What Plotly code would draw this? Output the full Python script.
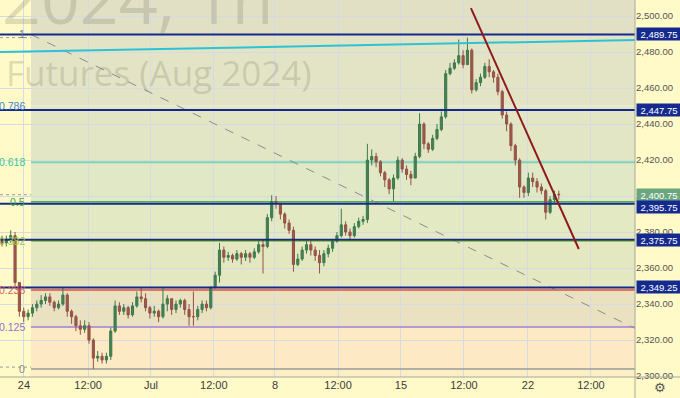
import plotly.graph_objects as go

# ---------------- data (approx. 4h bars) ----------------
closes = [2374, 2376, 2378, 2352, 2336, 2333, 2335, 2338, 2340, 2342,
          2344, 2341, 2338, 2340, 2345, 2336, 2333, 2328, 2326, 2328,
          2320, 2310, 2311, 2309, 2311, 2325, 2339, 2336, 2338, 2334,
          2339, 2344, 2343, 2338, 2335, 2336, 2333, 2340, 2343, 2337,
          2340, 2342, 2337, 2333, 2333, 2337, 2340, 2338, 2349, 2356,
          2370, 2366, 2367, 2365, 2368, 2366, 2368, 2366, 2369, 2373,
          2372, 2388, 2397, 2396, 2390, 2385, 2381, 2362, 2365, 2370,
          2373, 2370, 2367, 2363, 2368, 2371, 2375, 2378, 2384, 2380,
          2378, 2383, 2386, 2387, 2420, 2422, 2419, 2413, 2409, 2404,
          2410, 2420, 2415, 2412, 2410, 2422, 2440, 2429, 2426, 2432,
          2437, 2444, 2468, 2471, 2474, 2478, 2473, 2481, 2459, 2463,
          2466, 2472, 2469, 2466, 2458, 2445, 2440, 2428, 2420, 2405,
          2402, 2410, 2408, 2405, 2403, 2391, 2398, 2401, 2400.75]
highs = [2378, 2378, 2381, 2380, 2352, 2338, 2337, 2340, 2342, 2345,
         2346, 2346, 2342, 2342, 2349.5, 2346, 2337, 2334, 2331, 2331,
         2330, 2321, 2314, 2313, 2313, 2327, 2342, 2341, 2340, 2339,
         2341, 2347, 2349.5, 2346, 2339, 2339, 2337, 2349, 2345, 2343,
         2342, 2343, 2343, 2340, 2347, 2339, 2342, 2342, 2350, 2358,
         2374, 2372, 2369, 2368, 2370, 2369, 2370, 2369, 2371, 2375,
         2376, 2390, 2400.5, 2400, 2396, 2391, 2387, 2383, 2368, 2372,
         2375, 2375, 2372, 2370, 2370, 2373, 2376, 2380, 2393, 2386,
         2382, 2385, 2388, 2389, 2429, 2426, 2424, 2420, 2414, 2410,
         2412, 2422, 2421, 2417, 2414, 2424, 2446, 2441, 2430, 2434,
         2440, 2447, 2470, 2474, 2476, 2487, 2481, 2488, 2482, 2465,
         2468, 2474, 2476, 2470, 2468, 2459, 2447, 2441, 2429, 2421,
         2406, 2413, 2413, 2410, 2407, 2404, 2400, 2403, 2403]
lows = [2372, 2372, 2374, 2350, 2333, 2330, 2331, 2333, 2336, 2338,
        2340, 2339, 2336, 2337, 2339, 2333, 2329, 2325, 2323, 2324,
        2318, 2304, 2308, 2307, 2307, 2309, 2324, 2334, 2334, 2332,
        2333, 2338, 2341, 2336, 2332, 2333, 2330, 2332, 2336, 2334,
        2335, 2338, 2334, 2328, 2328, 2331, 2335, 2336, 2337, 2349,
        2352, 2363, 2364, 2363, 2364, 2362, 2364, 2363, 2365, 2368,
        2357, 2371, 2386, 2393, 2387, 2382, 2379, 2358, 2361, 2364,
        2368, 2367, 2364, 2357, 2361, 2366, 2369, 2374, 2377, 2378,
        2376, 2377, 2382, 2384, 2385, 2417, 2416, 2411, 2405, 2401,
        2397, 2409, 2413, 2409, 2406, 2410, 2421, 2426, 2424, 2425,
        2431, 2436, 2443, 2467, 2470, 2473, 2471, 2473, 2457, 2458,
        2461, 2465, 2466, 2463, 2456, 2443, 2436, 2425, 2417, 2399,
        2399, 2400, 2405, 2402, 2401, 2387, 2390, 2396, 2398]
first_open = 2375
opens = [first_open] + closes[:-1]
bars = list(range(len(closes)))

# x-axis tick labels
tick_labels = ["24", "12:00", "Jul", "12:00", "8", "12:00", "15", "12:00", "22", "12:00"]
tick_bars = [5.05, 19.8, 34.25, 48.7, 62.75, 77.25, 91.7, 106.2, 120.9, 135.4]

# price levels
navy_levels = [2489.75, 2447.75, 2395.75, 2375.75, 2349.25]
last_price = 2400.75
fib_low, fib_high = 2304.0, 2489.75
fib_ratios = [1, 0.786, 0.618, 0.5, 0.382, 0.236, 0.125, 0]
fib_labels = ["1", "0.786", "0.618", "0.5", "0.382", "0.236", "0.125", "0"]
y_ticks = list(range(2300, 2501, 20))

# ---------------- styling ----------------
X_RANGE = [-0.46, 145.52]
Y_RANGE = [2299.5, 2508.9]
BG = "#fffac8"
NAVY = "#152a8e"
GRID = "#d6dbe2"
FONT = "Liberation Sans"
fib_line_colors = ["#8a8d96", "#eef2cf", "#7fd6ae", "#4caf50", "#9acd32", "#e8735a", "#9a80d8", "#9a9a9a"]
fib_line_widths = [1, 1, 2, 1.5, 1.5, 2, 1.5, 1.5]
fib_text_colors = ["#787b86", "#3f86d8", "#36c79c", "#43a843", "#9ec93a", "#e0605a", "#8f72cf", "#8a8a8a"]
zone_colors = ["#e3e3c5", "#e3e6c5", "#e1e8c5", "#e3eac3", "#e3e8c0", "#eae1c0", "#fde9c3"]
fib_x0 = 6.67

fib_values = [fib_low + r * (fib_high - fib_low) for r in fib_ratios]

fig = go.Figure()
fig.add_trace(go.Candlestick(
    x=bars, open=opens, high=highs, low=lows, close=closes,
    increasing=dict(line=dict(color="#3d7a4d", width=1), fillcolor="#467f55"),
    decreasing=dict(line=dict(color="#935246", width=1), fillcolor="#9c584a"),
    whiskerwidth=0, showlegend=False, hoverinfo="skip",
))

shapes = []
# fib zone fills
shapes.append(dict(type="rect", xref="x", yref="y", x0=fib_x0, x1=X_RANGE[1], y0=fib_values[0], y1=Y_RANGE[1],
                   fillcolor="#e1e0c4", line_width=0, layer="below"))
for k in range(len(fib_values) - 1):
    shapes.append(dict(type="rect", xref="x", yref="y", x0=fib_x0, x1=X_RANGE[1],
                       y0=fib_values[k + 1], y1=fib_values[k],
                       fillcolor=zone_colors[k], line_width=0, layer="below"))
shapes.append(dict(type="rect", xref="x", yref="y", x0=fib_x0, x1=X_RANGE[1], y0=Y_RANGE[0], y1=fib_values[-1],
                   fillcolor="#fcefc5", line_width=0, layer="below"))

# fib level lines
for v, c, w in zip(fib_values, fib_line_colors, fib_line_widths):
    shapes.append(dict(type="line", xref="x", yref="y", x0=fib_x0, x1=X_RANGE[1], y0=v, y1=v,
                       line=dict(color=c, width=w), layer="between"))

# dotted high/low/last lines
for v in [max(highs), last_price, min(lows) + 1]:
    shapes.append(dict(type="line", xref="paper", yref="y", x0=0, x1=1, y0=v, y1=v,
                       line=dict(color="#9c9c9c", width=1, dash="dot"), layer="between"))

# fib trend (dashed)
shapes.append(dict(type="line", xref="x", yref="y", x0=fib_x0, y0=fib_high, x1=X_RANGE[1], y1=2326.5,
                   line=dict(color="#8c8c8c", width=1, dash="dash")))
# cyan line
shapes.append(dict(type="line", xref="x", yref="y", x0=X_RANGE[0], y0=2480.0, x1=X_RANGE[1], y1=2486.7,
                   line=dict(color="#2cc3d6", width=2)))
# navy horizontal levels
for v in navy_levels:
    shapes.append(dict(type="line", xref="paper", yref="y", x0=0, x1=1, y0=v, y1=v,
                       line=dict(color=NAVY, width=2)))
# maroon trend line
shapes.append(dict(type="line", xref="x", yref="y", x0=107.8, y0=2504.4, x1=132.6, y1=2370.6,
                   line=dict(color="#8e1b1b", width=2)))
# axis separators
shapes.append(dict(type="line", xref="paper", yref="paper", x0=1, x1=1, y0=-0.06, y1=1,
                   line=dict(color="#a8a89c", width=1)))
shapes.append(dict(type="line", xref="paper", yref="paper", x0=0, x1=1.08, y0=0, y1=0,
                   line=dict(color="#a8a89c", width=1)))

annotations = []
# watermark
annotations.append(dict(text="2024, 1h", xref="paper", yref="paper", x=0.0, y=1.006,
                        xanchor="left", yanchor="middle", showarrow=False,
                        font=dict(family="Open Sans", size=68, color="rgba(110,110,90,0.22)")))
annotations.append(dict(text="Futures (Aug 2024)", xref="paper", yref="paper", x=0.006, y=0.808,
                        xanchor="left", yanchor="middle", showarrow=False,
                        font=dict(family="Open Sans", size=35, color="rgba(110,110,90,0.22)")))
# fib labels
for v, t, c in zip(fib_values, fib_labels, fib_text_colors):
    annotations.append(dict(text=t, xref="paper", yref="y", x=26 / 635, y=v, xanchor="right",
                            yanchor="middle", showarrow=False, borderpad=0,
                            font=dict(family=FONT, size=10.5, color=c)))
# price labels on the right axis
annotations.append(dict(text=f"{last_price:,.2f}", xref="paper", yref="y", x=1, y=last_price,
                        xanchor="left", yanchor="middle", showarrow=False, xshift=1,
                        bgcolor="#6ba67e", width=44, height=12, borderpad=0,
                        font=dict(family=FONT, size=9.5, color="white")))
for v in navy_levels:
    annotations.append(dict(text=f"{v:,.2f}", xref="paper", yref="y", x=1, y=v,
                            xanchor="left", yanchor="middle", showarrow=False, xshift=1,
                            yshift=-3 if v == 2395.75 else 0,
                            bgcolor=NAVY, width=44, height=12, borderpad=0,
                            font=dict(family=FONT, size=9.5, color="white")))
# settings gear
annotations.append(dict(text="⚙", xref="paper", yref="paper", x=1.039, y=-0.027,
                        xanchor="center", yanchor="middle", showarrow=False,
                        font=dict(family="DejaVu Sans", size=13, color="#555555")))

fig.update_layout(
    width=680, height=398,
    margin=dict(l=0, r=45, t=0, b=21),
    paper_bgcolor=BG, plot_bgcolor=BG,
    shapes=shapes, annotations=annotations,
    showlegend=False,
    xaxis=dict(range=X_RANGE, rangeslider=dict(visible=False), showgrid=True, gridcolor=GRID,
               tickvals=tick_bars, ticktext=tick_labels, ticks="", showline=False, zeroline=False,
               tickfont=dict(family=FONT, size=11, color="#3c3c3c")),
    yaxis=dict(range=Y_RANGE, side="right", showgrid=True, gridcolor=GRID,
               tickvals=y_ticks, ticktext=[f"{v:,.2f}" for v in y_ticks], ticks="",
               showline=False, zeroline=False,
               tickfont=dict(family=FONT, size=9.5, color="#555555")),
)

fig.write_html("out.html", config={"displayModeBar": False},
               post_script="document.body.style.margin='0';document.body.style.overflow='hidden';")
